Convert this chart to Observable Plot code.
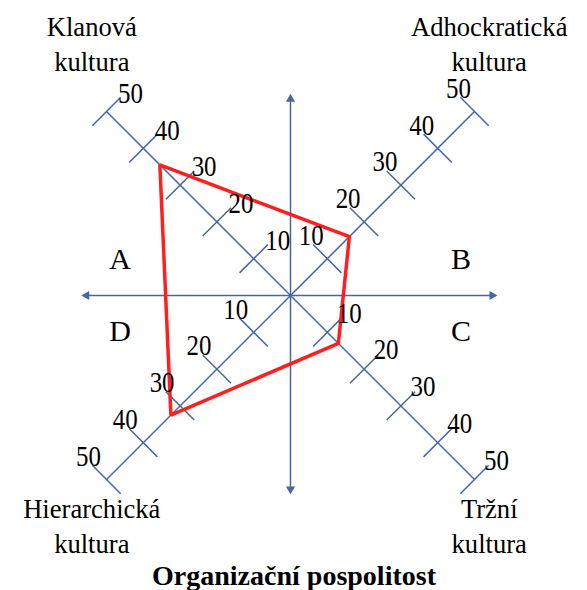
<!DOCTYPE html>
<html>
<head>
<meta charset="utf-8">
<script src="https://cdn.jsdelivr.net/npm/d3@7"></script>
<script src="https://cdn.jsdelivr.net/npm/@observablehq/plot@0.6"></script>
<style>
  body { margin: 0; background: #fff; }
  #chart svg { display: block; }
</style>
</head>
<body>
<div id="chart"></div>
<script>
// Culture types of the competing-values profile, one diagonal axis each
const cultures = ["Klanová\nkultura", "Adhockratická\nkultura", "Tržní\nkultura", "Hierarchická\nkultura"];
const quadrants = ["A", "B", "C", "D"];
// Profile score for each culture, same order as above
const profile = [35.5, 16, 13, 32.5];
const ticks = [10, 20, 30, 40, 50];
const title = "Organizační pospolitost";

// Layout constants
const W = 587, H = 590, cx = 290, cy = 295;
const px = 3.68;                       // pixels per score unit (along x and y)
const dirs = [[-1, 1], [1, 1], [1, -1], [-1, -1]]; // UL, UR, LR, LL
const axisMax = 50;
const tickHalf = 3.85;
const labelOffset = [[24, -18], [-16, -23], [22, -19], [-18, -23]]; // px offsets of tick numbers
const blue = "#44689f";
const red = "#ff1f1f";
const font = "Liberation Serif";

// Diagonal spokes
const spokes = dirs.map(([sx, sy]) => ({x1: 0, y1: 0, x2: sx * axisMax, y2: sy * axisMax}));

// Cross ticks, perpendicular to each spoke
const tickSegs = dirs.flatMap(([sx, sy]) => ticks.map(v => ({
  x1: sx * v + sy * tickHalf, y1: sy * v - sx * tickHalf,
  x2: sx * v - sy * tickHalf, y2: sy * v + sx * tickHalf
})));

// Tick numbers
const tickLabels = dirs.flatMap(([sx, sy], i) => ticks.map(v => ({
  x: sx * v + labelOffset[i][0] / px,
  y: sy * v - labelOffset[i][1] / px,
  text: String(v)
})));

// Profile polygon
const poly = profile.map((v, i) => ({x: dirs[i][0] * v, y: dirs[i][1] * v}));

// Main cross axes with arrowheads at both ends
const hAxis = {left: -56.3, right: 55.7};
const vAxis = {top: 54.3, bottom: -53.5};
const cross = [
  {x1: hAxis.left, y1: 0, x2: hAxis.right, y2: 0},
  {x1: 0, y1: vAxis.bottom, x2: 0, y2: vAxis.top}
];
const heads = [
  {x: hAxis.left + 0.9, y: 0, r: 270},
  {x: hAxis.right - 0.9, y: 0, r: 90},
  {x: 0, y: vAxis.top - 0.9, r: 0},
  {x: 0, y: vAxis.bottom + 0.9, r: 180}
];

// Quadrant letters
const quadPos = [[-1, 1], [1, 1], [1, -1], [-1, -1]];
const quadLabels = quadrants.map((q, i) => ({x: quadPos[i][0] * 46.3, y: quadPos[i][1] * 9.7, text: q}));

// Culture names near the outer ends of the spokes
const cultureLabels = cultures.map((c, i) => ({
  x: dirs[i][0] * 54,
  y: dirs[i][1] > 0 ? 77.3 : -53.8,
  text: c
}));

const chart = Plot.plot({
  width: W,
  height: H,
  margin: 0,
  x: {domain: [-cx / px, (W - cx) / px], axis: null},
  y: {domain: [-(H - cy) / px, cy / px], axis: null},
  style: {background: "#fff", overflow: "visible"},
  marks: [
    Plot.link(cross, {x1: "x1", y1: "y1", x2: "x2", y2: "y2", stroke: blue, strokeWidth: 1.5}),
    Plot.dot(heads, {x: "x", y: "y", rotate: "r", symbol: "triangle", r: 3.4, fill: blue, stroke: "none"}),
    Plot.link(spokes, {x1: "x1", y1: "y1", x2: "x2", y2: "y2", stroke: blue, strokeWidth: 1.5}),
    Plot.link(tickSegs, {x1: "x1", y1: "y1", x2: "x2", y2: "y2", stroke: blue, strokeWidth: 1.5}),
    Plot.line(poly, {x: "x", y: "y", curve: "linear-closed", stroke: red, strokeWidth: 3.5, strokeLinejoin: "miter"}),
    Plot.text(tickLabels, {x: "x", y: "y", text: "text", fontFamily: font, fontSize: 29, fill: "#000", textAnchor: "middle", lineAnchor: "middle"}),
    Plot.text(quadLabels, {x: "x", y: "y", text: "text", fontFamily: font, fontSize: 30, fill: "#000", textAnchor: "middle", lineAnchor: "middle"}),
    Plot.text(cultureLabels, {x: "x", y: "y", text: "text", fontFamily: font, fontSize: 28, lineHeight: 1.25, fill: "#000", textAnchor: "middle", lineAnchor: "top"}),
    Plot.text([title], {frameAnchor: "bottom", text: d => d, fontFamily: font, fontSize: 28, fontWeight: "bold", fill: "#000", lineAnchor: "bottom", dy: -6})
  ]
});

// Narrow the serif lettering horizontally; each text is scaled about its own anchor
const squeeze = [0.86, 1, 0.95, 1];
chart.querySelectorAll('g[aria-label="text"]').forEach((g, k) => {
  const s = squeeze[k] ?? 1;
  if (s === 1) return;
  g.querySelectorAll(":scope > text").forEach(t => {
    const prev = t.getAttribute("transform") || "";
    t.setAttribute("transform", `${prev} scale(${s},1)`.trim());
  });
});

document.getElementById("chart").appendChild(chart);
</script>
</body>
</html>
